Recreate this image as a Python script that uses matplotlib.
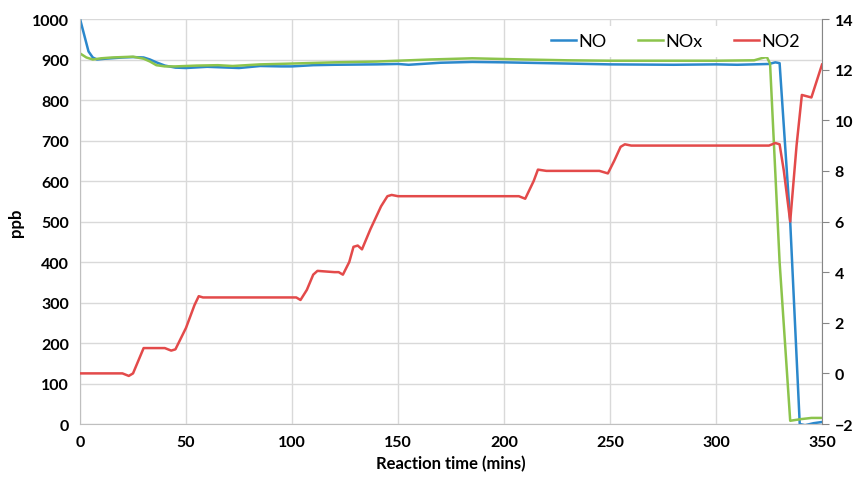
import matplotlib
matplotlib.use('Agg')
import matplotlib.pyplot as plt

plt.rcParams['font.family'] = ['Lato', 'DejaVu Sans']

# NO (ppb, left axis)
no_t = [0, 2, 4, 6, 8, 12, 20, 25, 30, 33, 36, 40, 45, 50, 60, 70, 75, 85, 95, 100,
        110, 120, 140, 150, 155, 170, 185, 200, 220, 250, 280, 300, 310, 325, 328, 330,
        335, 339.5, 342, 346, 350]
no_v = [1000, 960, 920, 905, 900, 902, 905, 906, 905, 900, 893, 885, 880, 879, 882, 880, 879, 884, 883, 883,
        886, 887, 888, 889, 887, 892, 894, 893, 891, 888, 887, 888, 887, 889, 893, 891,
        500, 0, -3, 2, 5]

# NOx (ppb, left axis)
nox_t = [0, 3, 6, 10, 15, 25, 30, 33, 36, 40, 45, 55, 65, 72, 85, 100, 120, 140, 150,
         165, 185, 210, 230, 250, 280, 300, 318, 322, 324, 325.5, 330, 335, 340, 345, 350]
nox_v = [915, 905, 900, 903, 905, 907, 902, 895, 886, 883, 883, 885, 886, 884, 888, 890, 893, 895, 897,
         900, 903, 900, 898, 897, 897, 897, 898, 904, 906, 890, 400, 8, 12, 15, 15]

# NO2 (ppb, right axis)
no2_t = [0, 20, 23, 25, 28, 30, 33, 40, 43, 45, 50, 54, 56, 58, 70, 100, 102, 104, 107, 110,
         112, 120, 122, 124, 127, 129, 131, 133, 137, 142, 145, 147, 150, 180, 205, 207, 210,
         214, 216, 220, 245, 249, 252, 255, 257, 260, 300, 325, 328, 330, 332, 335, 338, 340.5, 345, 350]
no2_v = [0, 0, -0.1, 0, 0.6, 1.0, 1.0, 1.0, 0.9, 0.95, 1.8, 2.7, 3.05, 3.0, 3.0, 3.0, 3.0, 2.9, 3.3, 3.9,
         4.05, 4.0, 4.0, 3.9, 4.4, 5.0, 5.05, 4.9, 5.7, 6.6, 7.0, 7.05, 7.0, 7.0, 7.0, 7.0, 6.9,
         7.6, 8.05, 8.0, 8.0, 7.9, 8.4, 8.95, 9.05, 9.0, 9.0, 9.0, 9.1, 9.05, 8.0, 6.0, 9.0, 11.0, 10.9, 12.2]

x_ticks = [0, 50, 100, 150, 200, 250, 300, 350]
left_ticks = [0, 100, 200, 300, 400, 500, 600, 700, 800, 900, 1000]
right_ticks = [-2, 0, 2, 4, 6, 8, 10, 12, 14]

fig = plt.figure(figsize=(8.55, 4.81), dpi=100)
ax = fig.add_axes([0.0936, 0.1164, 0.8678, 0.842])
ax2 = ax.twinx()

grid_c = '#d9d9d9'
ax.set_xlim(0, 350)
ax.set_ylim(0, 1000)
ax2.set_ylim(-2, 14)
ax.set_xticks(x_ticks)
ax.set_yticks(left_ticks)
ax2.set_yticks(right_ticks)
ax.grid(True, color=grid_c, linewidth=1)
ax.set_axisbelow(True)

l1, = ax.plot(no_t, no_v, color='#2b88cc', linewidth=1.8, label='NO')
l2, = ax.plot(nox_t, nox_v, color='#8cc44c', linewidth=1.8, label='NOx')
l3, = ax2.plot(no2_t, no2_v, color='#e34a4a', linewidth=1.8, label='NO2')

for a in (ax, ax2):
    for s in a.spines.values():
        s.set_visible(False)
ax.spines['left'].set_visible(True)
ax.spines['left'].set_color('#bfbfbf')
ax.spines['bottom'].set_visible(True)
ax.spines['bottom'].set_color('#bfbfbf')
ax2.spines['right'].set_visible(True)
ax2.spines['right'].set_color('#868686')

ax.tick_params(axis='both', length=0, labelsize=11.5, pad=8)
ax2.tick_params(axis='y', length=5, color='#868686', labelsize=11.5, pad=4)
for lab in ax.get_xticklabels() + ax.get_yticklabels() + ax2.get_yticklabels():
    lab.set_fontweight('bold')

ax.set_xlabel('Reaction time (mins)', fontsize=12, fontweight='bold', labelpad=4)
ax.set_ylabel('ppb', fontsize=12, fontweight='bold', labelpad=6)

leg = ax2.legend(handles=[l1, l2, l3], loc='upper right', ncol=3, frameon=True,
                 fontsize=13, handlelength=1.4, columnspacing=1.7, handletextpad=0.15,
                 bbox_to_anchor=(0.99, 1.0), borderaxespad=0.4)
leg.get_frame().set_edgecolor('none')
leg.get_frame().set_facecolor('white')
leg.get_frame().set_alpha(1)

fig.savefig('out.png', dpi=100)
